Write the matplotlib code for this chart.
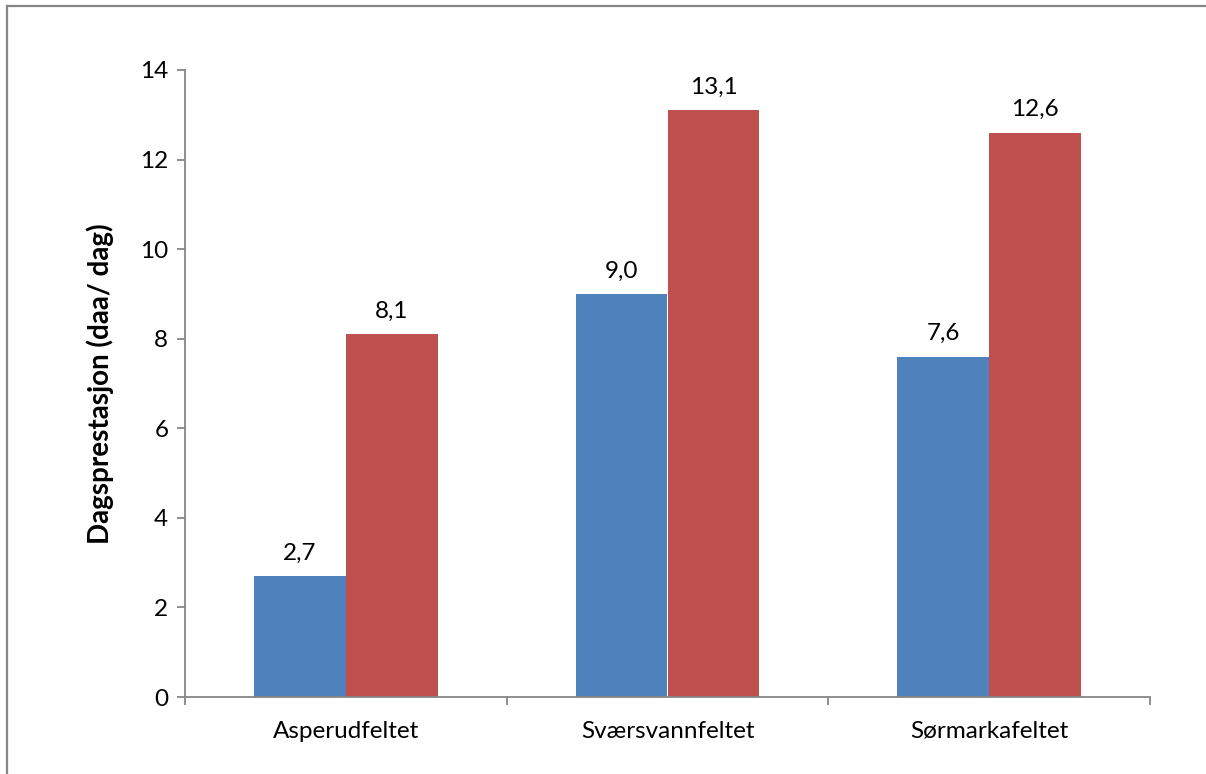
import matplotlib.pyplot as plt
from matplotlib.lines import Line2D
import numpy as np

plt.rcParams['font.family'] = ['Lato', 'DejaVu Sans']

felt = ["Asperudfeltet", "Sværsvannfeltet", "Sørmarkafeltet"]
serie_1 = [2.7, 9.0, 7.6]
serie_2 = [8.1, 13.1, 12.6]

blaa = "#4F81BD"
roed = "#C0504D"
grid_farge = "#868686"

fig = plt.figure(figsize=(12.06, 7.74), dpi=100)
ax = fig.add_axes([185 / 1206, 77 / 774, 965 / 1206, 627 / 774])

x = np.arange(len(felt))
bredde = 1 / 3.5

s1 = ax.bar(x - bredde / 2, serie_1, bredde, color=blaa)
s2 = ax.bar(x + bredde / 2, serie_2, bredde, color=roed)

for bars, verdier in ((s1, serie_1), (s2, serie_2)):
    for b, v in zip(bars, verdier):
        ax.annotate(f"{v:.1f}".replace(".", ","),
                    (b.get_x() + b.get_width() / 2, v),
                    xytext=(0, 9), textcoords="offset points",
                    ha="center", va="bottom", fontsize=17.5)

ax.set_xlim(-0.5, len(felt) - 0.5)
ax.set_ylim(0, 14)
ax.set_yticks(range(0, 15, 2))
ax.tick_params(axis="y", labelsize=17.5, length=6, width=1.3, color=grid_farge, pad=6)

# kategorinavn i midten, skillestreker mellom kategoriene
ax.set_xticks(x)
ax.set_xticklabels(felt, fontsize=17.5)
ax.tick_params(axis="x", which="major", length=0, pad=17)
ax.set_xticks(np.arange(-0.5, len(felt)), minor=True)
ax.tick_params(axis="x", which="minor", length=6, width=1.3, color=grid_farge, direction="out")

for side in ("top", "right"):
    ax.spines[side].set_visible(False)
for side in ("left", "bottom"):
    ax.spines[side].set_color(grid_farge)
    ax.spines[side].set_linewidth(1.3)

ax.set_ylabel("Dagsprestasjon (daa/ dag)", fontsize=20, fontweight="bold", labelpad=19)

# ramme rundt diagrammet
fig.add_artist(Line2D([7 / 1206, 7 / 1206], [0, 1 - 6 / 774], transform=fig.transFigure,
                      color=grid_farge, lw=1.6))
fig.add_artist(Line2D([7 / 1206, 1], [1 - 6 / 774, 1 - 6 / 774], transform=fig.transFigure,
                      color=grid_farge, lw=1.6))

fig.savefig("out.png", dpi=100)
